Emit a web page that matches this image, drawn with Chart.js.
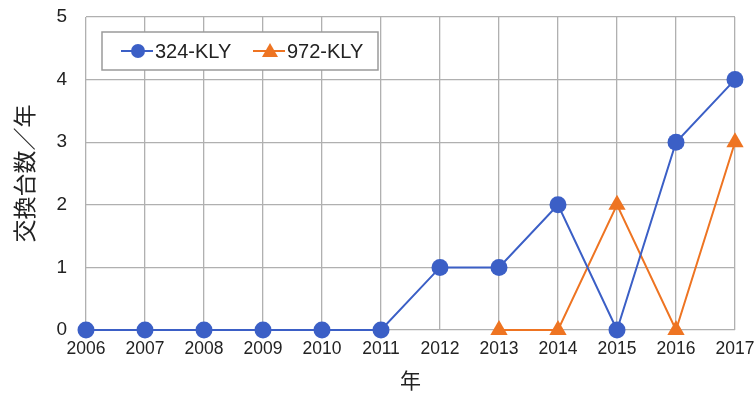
<!DOCTYPE html>
<html>
<head>
<meta charset="utf-8">
<script src="https://cdn.jsdelivr.net/npm/chart.js@4/dist/chart.umd.min.js"></script>
<style>
  html, body { margin: 0; padding: 0; background: #fff; }
  #wrap { width: 755px; height: 393px; position: relative; }
</style>
</head>
<body>
<div id="wrap"><canvas id="c" width="755" height="393"></canvas></div>
<script>
// Years on the x axis
const years = ['2006','2007','2008','2009','2010','2011','2012','2013','2014','2015','2016','2017'];
// Replacements per year for each unit type
const kly324 = [0, 0, 0, 0, 0, 0, 1, 1, 2, 0, 3, 4];
const kly972 = [null, null, null, null, null, null, null, 0, 0, 2, 0, 3];
const seriesNames = ['324-KLY', '972-KLY'];
const yTicks = [0, 1, 2, 3, 4, 5];

const BLUE = '#3b5fc6';
const ORANGE = '#ee7422';
const FONT = "'Liberation Sans', 'Noto Sans CJK JP', sans-serif";
const JP_FONT = "'Noto Sans CJK JP', 'Liberation Sans', sans-serif";

// Boxed legend drawn inside the top-left of the plot area
const boxedLegend = {
  id: 'boxedLegend',
  afterDatasetsDraw(chart) {
    const { ctx, chartArea } = chart;
    const x0 = chartArea.left + 16, y0 = chartArea.top + 15;
    const w = 276, h = 38;
    ctx.save();
    ctx.fillStyle = '#fff';
    ctx.fillRect(x0, y0, w, h);
    ctx.strokeStyle = '#9a9a9a';
    ctx.lineWidth = 1.5;
    ctx.strokeRect(x0, y0, w, h);
    ctx.font = '20px ' + FONT;
    ctx.textBaseline = 'middle';
    const cy = y0 + h / 2;
    let x = x0 + 19;
    chart.data.datasets.forEach((ds) => {
      ctx.strokeStyle = ds.borderColor;
      ctx.lineWidth = 2;
      ctx.beginPath();
      ctx.moveTo(x, cy);
      ctx.lineTo(x + 32, cy);
      ctx.stroke();
      ctx.fillStyle = ds.backgroundColor;
      const mx = x + 17;
      if (ds.pointStyle === 'triangle') {
        ctx.beginPath();
        ctx.moveTo(mx, cy - 8);
        ctx.lineTo(mx + 8, cy + 6);
        ctx.lineTo(mx - 8, cy + 6);
        ctx.closePath();
        ctx.fill();
      } else {
        ctx.beginPath();
        ctx.arc(mx, cy, 7, 0, Math.PI * 2);
        ctx.fill();
      }
      ctx.fillStyle = '#222';
      ctx.textAlign = 'left';
      ctx.fillText(ds.label, x + 34, cy + 1);
      x += 132;
    });
    ctx.restore();
  }
};

new Chart(document.getElementById('c'), {
  type: 'line',
  data: {
    labels: years,
    datasets: [
      {
        label: seriesNames[0],
        data: kly324,
        borderColor: BLUE,
        backgroundColor: BLUE,
        borderWidth: 2,
        pointStyle: 'circle',
        pointRadius: 8.5,
        pointHoverRadius: 8.5,
        pointBorderWidth: 0,
        tension: 0,
        clip: false
      },
      {
        label: seriesNames[1],
        data: kly972,
        borderColor: ORANGE,
        backgroundColor: ORANGE,
        borderWidth: 2,
        pointStyle: 'triangle',
        pointRadius: 10,
        pointHoverRadius: 10,
        pointBorderWidth: 0,
        tension: 0,
        clip: false,
        spanGaps: false
      }
    ]
  },
  options: {
    responsive: false,
    animation: false,
    events: [],
    layout: { autoPadding: false, padding: { top: 17, right: 20, left: 0, bottom: 0 } },
    plugins: {
      legend: { display: false },
      tooltip: { enabled: false }
    },
    scales: {
      x: {
        offset: false,
        grid: { color: '#b0b0b0', lineWidth: 1.3, drawTicks: false },
        border: { display: false },
        ticks: {
          font: { size: 17.5, family: FONT },
          color: '#222',
          padding: 9,
          maxRotation: 0,
          autoSkip: false
        },
        title: {
          display: true,
          text: '年',
          font: { size: 21, family: JP_FONT },
          color: '#222',
          padding: { top: 4, bottom: 0 }
        },
        afterFit(scale) {
          scale.height = 63;
          scale.paddingLeft = 0;
          scale.paddingRight = 0;
        }
      },
      y: {
        min: 0,
        max: 5,
        afterBuildTicks(scale) { scale.ticks = yTicks.map(v => ({ value: v })); },
        grid: { color: '#b0b0b0', lineWidth: 1.3, drawTicks: false },
        border: { display: false },
        ticks: {
          font: { size: 19, family: FONT },
          color: '#222',
          padding: 19
        },
        title: {
          display: true,
          text: '交換台数／年',
          font: { size: 23, family: JP_FONT },
          color: '#222',
          padding: { top: 10, bottom: 0 }
        },
        afterFit(scale) {
          scale.width = 86;
          scale.paddingTop = 0;
          scale.paddingBottom = 0;
        }
      }
    }
  },
  plugins: [boxedLegend]
});
</script>
</body>
</html>
